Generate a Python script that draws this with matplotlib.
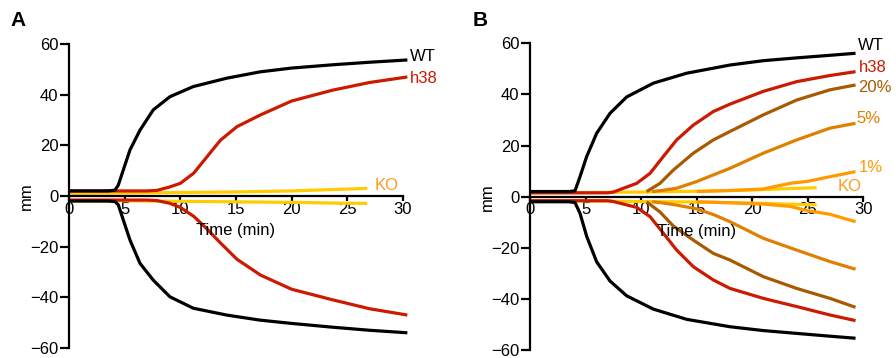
import matplotlib.pyplot as plt

plt.rcParams['font.family'] = ['Liberation Sans', 'DejaVu Sans']

# ---- panel A: expansion (mm) vs time (min), upper and lower fronts ----
a_wt_t = [0, 3.5, 4.13, 4.43, 4.88, 5.48, 6.38, 7.57, 9.07, 11.17, 14.17, 17.16, 20, 23.7, 27, 30.4]
a_wt_up = [2, 2, 2.3, 4.3, 10.3, 18.2, 26, 34, 39.2, 43.2, 46.5, 49, 50.5, 51.8, 52.8, 53.7]
a_wt_dn = [-2, -2, -2.2, -3.5, -9.5, -17.4, -26.6, -33.2, -39.8, -44.3, -47, -49, -50.3, -51.8, -53, -54]

a_h38_t = [0, 7, 7.88, 9, 10, 11.2, 12.4, 13.6, 15.1, 17.2, 20, 23.7, 27, 30.4]
a_h38_up = [2, 2, 2.2, 3.5, 5, 9, 15.5, 22, 27.4, 32, 37.5, 41.8, 44.8, 47]
a_h38_dn = [-1.6, -1.6, -1.8, -2.8, -4.5, -8, -13, -18.5, -25, -31.2, -36.8, -41, -44.5, -47]

a_ko_t = [0, 5, 10, 15, 20, 24, 26.8]
a_ko_up = [1, 1.2, 1.4, 1.6, 2, 2.6, 3]
a_ko_dn = [-1.8, -1.9, -2.1, -2.3, -2.5, -2.8, -2.9]

# ---- panel B: WT, h38, dilutions (20%, 5%, 1%) and KO ----
b_wt_t = [0, 3.5, 4.05, 4.5, 5.1, 6, 7.2, 8.7, 11.1, 14.1, 18, 21, 24, 27, 29.3]
b_wt_up = [2, 2, 2.3, 7.8, 15.7, 24.8, 32.6, 39, 44.4, 48.3, 51.5, 53.2, 54.3, 55.3, 56.1]
b_wt_dn = [-2, -2, -2.3, -6.5, -15.5, -25.5, -33, -38.8, -44, -48, -50.9, -52.4, -53.5, -54.6, -55.4]

b_h38_t = [0, 7, 7.5, 9.6, 10.8, 12, 13.2, 14.7, 16.5, 18, 21, 24, 27, 29.3]
b_h38_up = [1.5, 1.5, 1.8, 5.2, 9.1, 15.7, 22.2, 28, 33.3, 36.2, 41.2, 45, 47.4, 48.9]
b_h38_dn = [-1.6, -1.6, -1.9, -4.2, -7.8, -14.3, -20.9, -27.4, -32.6, -35.9, -39.8, -43, -46.3, -48.5]

b_20_t = [10.5, 11.7, 12.9, 14.7, 16.5, 18, 21, 24, 27, 29.3]
b_20_up = [2, 5.2, 10.4, 17, 22.2, 25.5, 32, 37.8, 41.8, 43.7]
b_20_dn = [-2, -6, -11.5, -17, -22.2, -24.8, -31.3, -35.9, -39.8, -43.3]

b_5_t = [11, 12, 13.2, 15, 16.5, 18, 21, 24, 27, 29.3]
b_5_up = [2, 2.5, 3.3, 5.9, 8.5, 11.1, 17, 22.2, 26.8, 28.7]
b_5_dn = [-2, -2.5, -3.3, -4.8, -7, -9.8, -16.3, -20.9, -25.4, -28.4]

b_1_t = [15, 18, 21, 23.4, 25, 27, 29.3]
b_1_up = [2, 2.4, 3, 5.2, 6, 7.8, 9.8]
b_1_dn = [-2, -2.4, -2.9, -3.8, -5.5, -6.9, -9.8]

b_ko_t = [0, 5, 10, 15, 20, 23, 25.8]
b_ko_up = [1.5, 1.6, 1.8, 2.1, 2.6, 3.1, 3.5]
b_ko_dn = [-1.5, -1.7, -1.9, -2.1, -2.5, -2.9, -3.2]

yticks = [-60, -40, -20, 0, 20, 40, 60]
xticks = [0, 5, 10, 15, 20, 25, 30]

BLACK = '#000000'
RED = '#cc1a00'
BROWN = '#a85a00'
ORANGE = '#e08000'
LIGHT = '#ff9a00'
YELLOW = '#ffcc00'
KO_TEXT = '#ff9a20'

fig = plt.figure(figsize=(8.96, 3.58), dpi=100)
W, H = 896, 358


def make_axes(x0_px, px_per_min, top_px, bot_px):
    left = x0_px / W
    width = 31 * px_per_min / W
    bottom = 1 - bot_px / H
    height = (bot_px - top_px) / H
    ax = fig.add_axes([left, bottom, width, height])
    ax.set_xlim(0, 31)
    ax.set_ylim(-60, 60)
    ax.spines['top'].set_visible(False)
    ax.spines['right'].set_visible(False)
    ax.spines['bottom'].set_position(('data', 0))
    ax.spines['bottom'].set_bounds(0, 30)
    ax.spines['left'].set_bounds(-60, 60)
    for s in ('left', 'bottom'):
        ax.spines[s].set_linewidth(1.6)
    ax.set_yticks(yticks)
    ax.set_xticks(xticks)
    ax.tick_params(axis='y', length=6.5, width=1.6, labelsize=12, pad=1)
    ax.tick_params(axis='x', length=3.5, width=1.6, labelsize=12, pad=0.5)
    ax.patch.set_alpha(0)
    ax.text(15, -13.5, 'Time (min)', ha='center', va='center', fontsize=12)
    ax.set_ylabel('mm', fontsize=12)
    ax.yaxis.set_label_coords(-0.102, 0.5)
    return ax


def pair(ax, t, up, dn, color):
    ax.plot(t, up, color=color, lw=2.3, clip_on=False, solid_capstyle='butt')
    ax.plot(t, dn, color=color, lw=2.3, clip_on=False, solid_capstyle='butt')


axA = make_axes(69, 11.13, 44, 348)
pair(axA, a_ko_t, a_ko_up, a_ko_dn, YELLOW)
pair(axA, a_h38_t, a_h38_up, a_h38_dn, RED)
pair(axA, a_wt_t, a_wt_up, a_wt_dn, BLACK)
axA.text(30.6, 55, 'WT', color=BLACK, fontsize=12, va='center')
axA.text(30.6, 46.5, 'h38', color=RED, fontsize=12, va='center')
axA.text(27.5, 4.2, 'KO', color=KO_TEXT, fontsize=12, va='center')

axB = make_axes(530, 11.11, 43.3, 350)
pair(axB, b_ko_t, b_ko_up, b_ko_dn, YELLOW)
pair(axB, b_1_t, b_1_up, b_1_dn, LIGHT)
pair(axB, b_5_t, b_5_up, b_5_dn, ORANGE)
pair(axB, b_20_t, b_20_up, b_20_dn, BROWN)
pair(axB, b_h38_t, b_h38_up, b_h38_dn, RED)
pair(axB, b_wt_t, b_wt_up, b_wt_dn, BLACK)
axB.text(29.5, 59, 'WT', color=BLACK, fontsize=12, va='center')
axB.text(29.6, 50.5, 'h38', color=RED, fontsize=12, va='center')
axB.text(29.5, 42.7, '20%', color=BROWN, fontsize=12, va='center')
axB.text(29.4, 30.5, '5%', color=ORANGE, fontsize=12, va='center')
axB.text(29.6, 11.5, '1%', color=LIGHT, fontsize=12, va='center')
axB.text(27.7, 4, 'KO', color=KO_TEXT, fontsize=12, va='center')

fig.text(10 / W, 1 - 20 / H, 'A', fontsize=15, fontweight='bold', va='center')
fig.text(473 / W, 1 - 20 / H, 'B', fontsize=15, fontweight='bold', va='center')

fig.savefig('out.png', dpi=100)
